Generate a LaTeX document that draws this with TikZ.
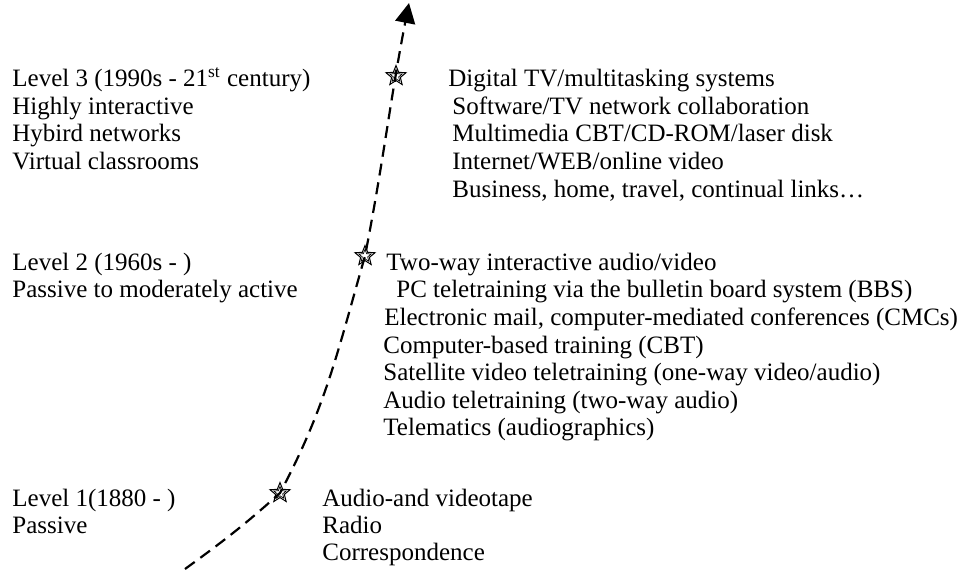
\documentclass[tikz,border=0pt]{standalone}
\usepackage{fontspec}
\setmainfont{Liberation Serif}
\usetikzlibrary{shapes.geometric,arrows.meta}
\tikzset{
  txt/.style={anchor=base west, inner sep=0pt, font=\fontsize{12.5}{13.8}\selectfont},
  starmark/.style={star, star points=5, star point ratio=2.3, draw, line width=0.5pt, inner sep=0pt, minimum size=10.5pt},
  starinner/.style={star, star points=5, star point ratio=2.3, draw, line width=0.35pt, inner sep=0pt, minimum size=6.5pt},
  growth/.style={line width=1.1pt, dash pattern=on 6pt off 3.5pt, -{Triangle[length=10pt,width=10pt]}}
}
\begin{document}
\begin{tikzpicture}[x=0.5pt,y=-0.5pt]
\useasboundingbox (0,0) rectangle (960,569);
% curve coordinates
\coordinate (c0) at (185,569);
\coordinate (c2) at (280,493);
\coordinate (c5) at (365,256);
\coordinate (tip) at (409,3);
\draw[growth] (c0) to[out=36,in=-138] (c2) to[out=62,in=-106] (c5) to[out=79,in=-101] (tip);
% stars
\node[starmark] (s1) at (280,493) {};
\node[starinner] (s1i) at (s1.center) {};
\node[starmark] (s2) at (365,256) {};
\node[starinner] (s2i) at (s2.center) {};
\node[starmark] (s3) at (396,76) {};
\node[starinner] (s3i) at (s3.center) {};
% Level 3
\node[txt] (l3a) at (12,86) {Level 3 (1990s - 21\textsuperscript{st} century)};
\node[txt] (l3b) at (12,114) {Highly interactive};
\node[txt] (l3c) at (12,141) {Hybird networks};
\node[txt] (l3d) at (12,169) {Virtual classrooms};
\node[txt] (r3a) at (448,86) {Digital TV/multitasking systems};
\node[txt] (r3b) at (452,114) {Software/TV network collaboration};
\node[txt] (r3c) at (452,141) {Multimedia CBT/CD-ROM/laser disk};
\node[txt] (r3d) at (452,169) {Internet/WEB/online video};
\node[txt] (r3e) at (452,197) {Business, home, travel, continual links\ldots};
% Level 2
\node[txt] (l2a) at (12,270) {Level 2 (1960s - )};
\node[txt] (l2b) at (12,297) {Passive to moderately active};
\node[txt] (r2a) at (386,270) {Two-way interactive audio/video};
\node[txt] (r2b) at (396,297) {PC teletraining via the bulletin board system (BBS)};
\node[txt] (r2c) at (384,325) {Electronic mail, computer-mediated conferences (CMCs)};
\node[txt] (r2d) at (383,353) {Computer-based training (CBT)};
\node[txt] (r2e) at (383,380) {Satellite video teletraining (one-way video/audio)};
\node[txt] (r2f) at (383,408) {Audio teletraining (two-way audio)};
\node[txt] (r2g) at (383,435) {Telematics (audiographics)};
% Level 1
\node[txt] (l1a) at (12,506) {Level 1(1880 - )};
\node[txt] (l1b) at (12,533) {Passive};
\node[txt] (r1a) at (322,506) {Audio-and videotape};
\node[txt] (r1b) at (322,533) {Radio};
\node[txt] (r1c) at (322,560) {Correspondence};
\end{tikzpicture}
\end{document}
